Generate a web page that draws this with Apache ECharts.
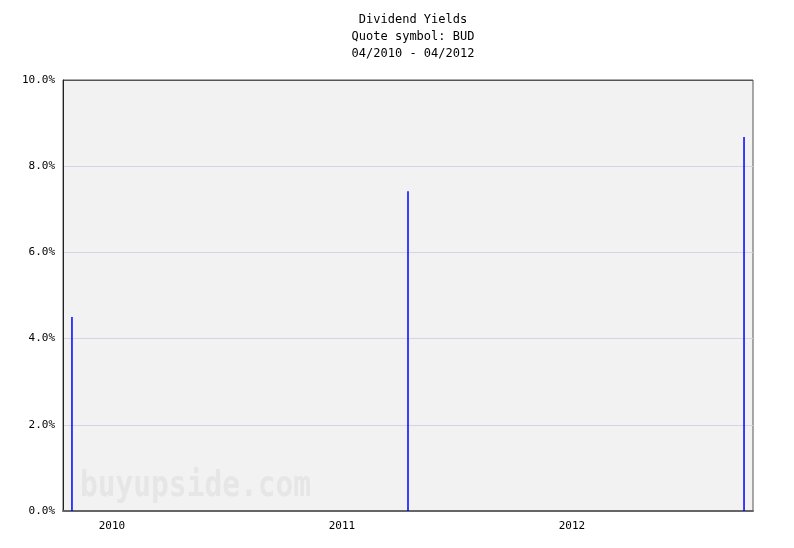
<!DOCTYPE html>
<html>
<head>
<meta charset="utf-8">
<script src="https://cdn.jsdelivr.net/npm/echarts@6/dist/echarts.min.js"></script>
<style>
  html, body { margin: 0; padding: 0; background: #fff; }
  #chart { width: 794px; height: 548px; }
</style>
</head>
<body>
<div id="chart"></div>
<script>
  // dividend dates as decimal years, and the yield at each (%)
  const dividendDates = [2009.826, 2011.287, 2012.748];
  const dividendYields = [4.5, 7.42, 8.68];
  const yearLabels = [2010, 2011, 2012];

  const axisMin = 2009.787;
  const axisMax = 2012.787;
  const font = "'DejaVu Sans Mono', 'Liberation Mono', monospace";

  const chart = echarts.init(document.getElementById("chart"), null, { renderer: "canvas" });

  const option = {
    backgroundColor: "#ffffff",
    animation: false,
    title: {
      text: "Dividend Yields\nQuote symbol: BUD\n04/2010 - 04/2012",
      left: 408,
      top: 6,
      textAlign: "center",
      textStyle: {
        fontFamily: font,
        fontSize: 12,
        fontWeight: "normal",
        color: "#000",
        lineHeight: 17
      }
    },
    graphic: [
      {
        type: "text",
        x: 80,
        y: 469,
        scaleX: 0.82,
        z: 1,
        style: {
          text: "buyupside.com",
          font: "bold 36px 'DejaVu Sans Mono', monospace",
          fill: "#e6e6e6"
        }
      }
    ],
    grid: {
      left: 63,
      right: 41,
      top: 80,
      bottom: 37,
      show: true,
      backgroundColor: "#f2f2f2",
      borderColor: "#555",
      borderWidth: 1
    },
    xAxis: {
      type: "value",
      min: axisMin,
      max: axisMax,
      splitLine: { show: false },
      axisTick: { show: false },
      axisLine: { show: true, lineStyle: { color: "#666", width: 2 } },
      axisLabel: {
        customValues: yearLabels,
        formatter: v => String(Math.round(v)),
        fontFamily: font,
        fontSize: 11,
        color: "#000",
        margin: 10
      }
    },
    yAxis: {
      type: "value",
      min: 0,
      max: 10,
      interval: 2,
      axisTick: { show: false },
      axisLine: { show: true, lineStyle: { color: "#222", width: 1 } },
      splitLine: {
        show: true,
        lineStyle: { color: ["#d4d4e8", "#d4d4e8", "#d4d4e8", "#d4d4e8", "#d4d4e8", "#555"], width: 1 }
      },
      axisLabel: {
        formatter: v => v.toFixed(1) + "%",
        fontFamily: font,
        fontSize: 11,
        color: "#000",
        margin: 8
      }
    },
    series: [
      {
        type: "bar",
        barWidth: 1.5,
        itemStyle: { color: "#0000ff" },
        z: 3,
        data: dividendDates.map((d, i) => [d, dividendYields[i]])
      }
    ]
  };

  chart.setOption(option);
</script>
</body>
</html>
